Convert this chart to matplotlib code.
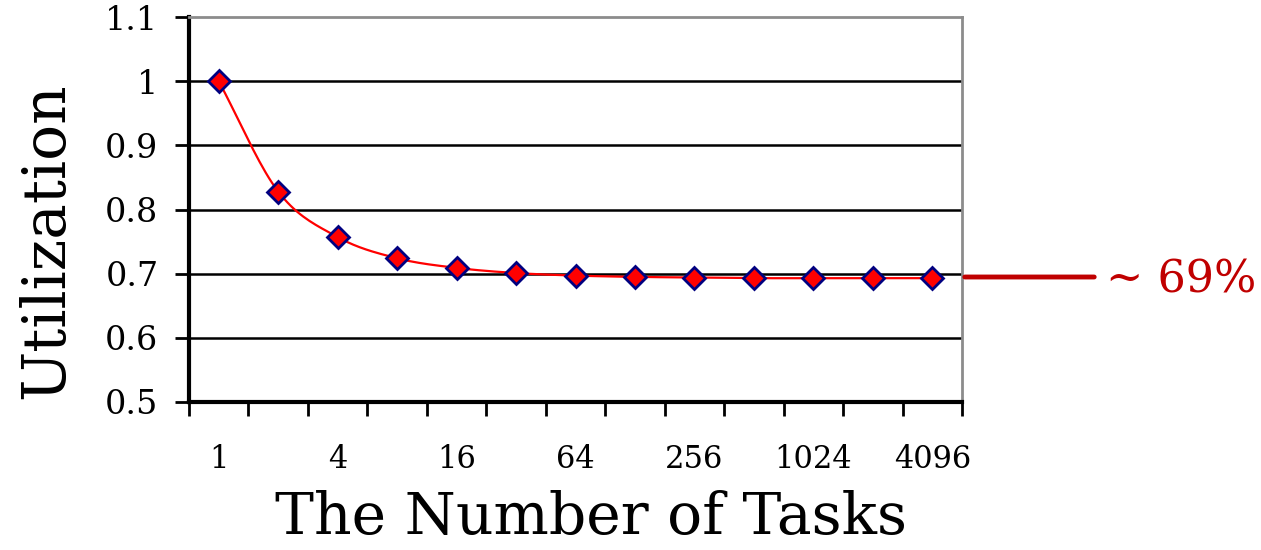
import numpy as np
import matplotlib.pyplot as plt

tasks = [1, 2, 4, 8, 16, 32, 64, 128, 256, 512, 1024, 2048, 4096]
util = [1.0, 0.828, 0.757, 0.724, 0.709, 0.701, 0.697, 0.695, 0.694, 0.693, 0.693, 0.693, 0.693]
tick_labels = ['1', '4', '16', '64', '256', '1024', '4096']


def smooth(x, y, n=20):
    # catmull-rom through the points, like the smoothed line in excel
    x = np.asarray(x, float)
    y = np.asarray(y, float)
    px = np.concatenate([[2 * x[0] - x[1]], x, [2 * x[-1] - x[-2]]])
    py = np.concatenate([[2 * y[0] - y[1]], y, [2 * y[-1] - y[-2]]])
    xs, ys = [], []
    t = np.linspace(0, 1, n)
    for i in range(1, len(px) - 2):
        for p, out in ((px, xs), (py, ys)):
            p0, p1, p2, p3 = p[i - 1], p[i], p[i + 1], p[i + 2]
            out.extend(0.5 * (2 * p1 + (-p0 + p2) * t + (2 * p0 - 5 * p1 + 4 * p2 - p3) * t ** 2
                              + (-p0 + 3 * p1 - 3 * p2 + p3) * t ** 3))
    return np.array(xs), np.array(ys)


plt.rcParams['font.family'] = 'DejaVu Serif'
fig = plt.figure(figsize=(12.61, 5.5), dpi=100)
fig.set_facecolor('white')
ax = fig.add_axes([189 / 1261, 1 - 402 / 550, 773 / 1261, 385 / 550])

pos = np.arange(len(tasks))
sx, sy = smooth(pos, util)
ax.plot(sx, sy, color='red', lw=1.6, zorder=3)
ax.plot(pos, util, ls='none', marker='D', ms=11, mfc='red', mec='#000080', mew=2, zorder=4)

ax.set_xlim(-0.5, len(tasks) - 0.5)
ax.set_ylim(0.5, 1.1)
ax.set_yticks([0.5, 0.6, 0.7, 0.8, 0.9, 1.0, 1.1])
ax.set_yticklabels(['0.5', '0.6', '0.7', '0.8', '0.9', '1', '1.1'], fontsize=24)
for v in [0.6, 0.7, 0.8, 0.9, 1.0]:
    ax.axhline(v, color='black', lw=1.8, zorder=1)

ax.set_xticks(np.arange(-0.5, len(tasks)), minor=False)
ax.set_xticklabels([])
ax.set_xticks(pos[::2], minor=True)
ax.set_xticklabels(tick_labels, minor=True, fontsize=22)
ax.tick_params(axis='x', which='minor', length=0, pad=30)
ax.tick_params(axis='x', which='major', length=10, width=2)
ax.tick_params(axis='y', length=10, width=2, pad=12)

for s in ['left', 'bottom']:
    ax.spines[s].set_linewidth(3)
for s in ['top', 'right']:
    ax.spines[s].set_color('#8c8c8c')
    ax.spines[s].set_linewidth(2)

ax.set_xlabel('The Number of Tasks', fontsize=42, va='center')
ax.xaxis.set_label_coords((591 - 189) / 773, (402 - 518) / 385)
ax.set_ylabel('Utilization', fontsize=43, va='center')
ax.yaxis.set_label_coords((46 - 189) / 773, (402 - 241) / 385)

ax.annotate('', xy=(1097 / 1261, 1 - 277 / 550), xycoords='figure fraction',
            xytext=(962 / 1261, 1 - 277 / 550),
            arrowprops=dict(arrowstyle='-', color='#C00000', lw=3.5))
fig.text(1106 / 1261, 1 - 280 / 550, '~ 69%', color='#C00000', fontsize=32, va='center', ha='left')

fig.savefig('out.png', dpi=100)
